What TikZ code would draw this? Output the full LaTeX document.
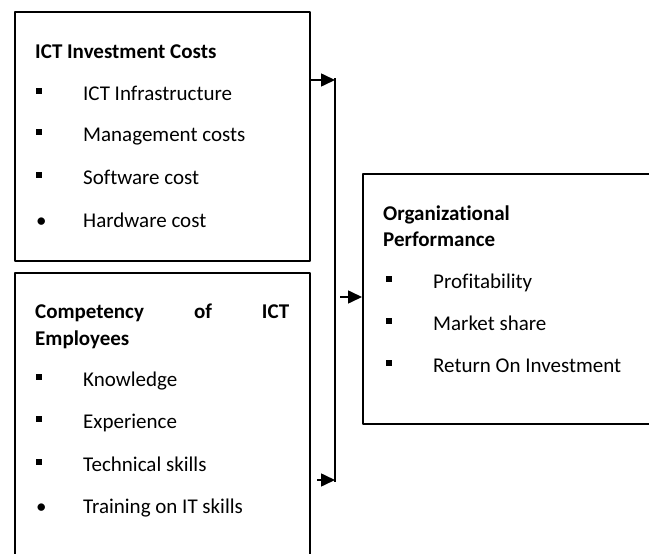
\documentclass[tikz,border=0pt]{standalone}
\usepackage{fontspec}
\setmainfont[Ligatures=NoCommon]{Carlito}
\usetikzlibrary{arrows.meta}
\newcommand{\sqb}{\rule[6pt]{6pt}{6pt}}
\newcommand{\rdb}{\textbullet}
\newcommand{\itm}[2]{\makebox[47pt][l]{#1}#2}
\tikzset{
	box/.style={draw, line width=2pt, anchor=north west, inner sep=0pt},
	txt/.style={anchor=base west, inner sep=0pt},
	arr/.style={line width=1.6pt, -{Triangle[length=14pt,width=13pt]}}
}
\begin{document}
\begin{tikzpicture}[x=1pt, y=-1pt, font=\fontsize{21}{25}\selectfont, line join=round]
	\useasboundingbox (0,0) rectangle (649,554);
	\clip (0,0) rectangle (649,554);
	% boxes
	\node[box, minimum width=295pt, minimum height=249pt] (costs) at (14,11) {};
	\node[box, minimum width=295pt, minimum height=320pt] (comp) at (14,272) {};
	\node[box, minimum width=320pt, minimum height=250pt] (perf) at (362,173) {};
	% ICT investment costs
	\path 
	(35,58) node[txt] (ct) {\bfseries ICT Investment Costs}
	(36,100) node[txt] (c1) {\itm{\sqb}{ICT Infrastructure}}
	(36,141) node[txt] (c2) {\itm{\sqb}{Management costs}}
	(36,184) node[txt] (c3) {\itm{\sqb}{Software cost}}
	(36,227) node[txt] (c4) {\itm{\rdb}{Hardware cost}};
	% competency
	\path 
	(35,318) node[txt] (et1) {\bfseries\makebox[254pt][s]{Competency of ICT}}
	(35,345) node[txt] (et2) {\bfseries Employees}
	(36,386) node[txt] (e1) {\itm{\sqb}{Knowledge}}
	(36,428) node[txt] (e2) {\itm{\sqb}{Experience}}
	(36,471) node[txt] (e3) {\itm{\sqb}{Technical skills}}
	(36,513) node[txt] (e4) {\itm{\rdb}{Training on IT skills}};
	% performance
	\path 
	(383,220) node[txt] (pt1) {\bfseries Organizational}
	(383,246) node[txt] (pt2) {\bfseries Performance}
	(386,288) node[txt] (p1) {\itm{\sqb}{Profitability}}
	(386,330) node[txt] (p2) {\itm{\sqb}{Market share}}
	(386,372) node[txt] (p3) {\itm{\sqb}{Return On Investment}};
	% connectors
	\coordinate (jt) at (335,80);
	\coordinate (jb) at (335,480);
	\coordinate (jm) at (340,297);
	\draw[line width=1.6pt] (335,78) -- (335,482);
	\draw[arr] (costs.east |- jt) -- (jt);
	\draw[arr] ([xshift=6pt]comp.east |- jb) -- (jb);
	\draw[arr] (jm) -- (perf.west |- jm);
\end{tikzpicture}
\end{document}
